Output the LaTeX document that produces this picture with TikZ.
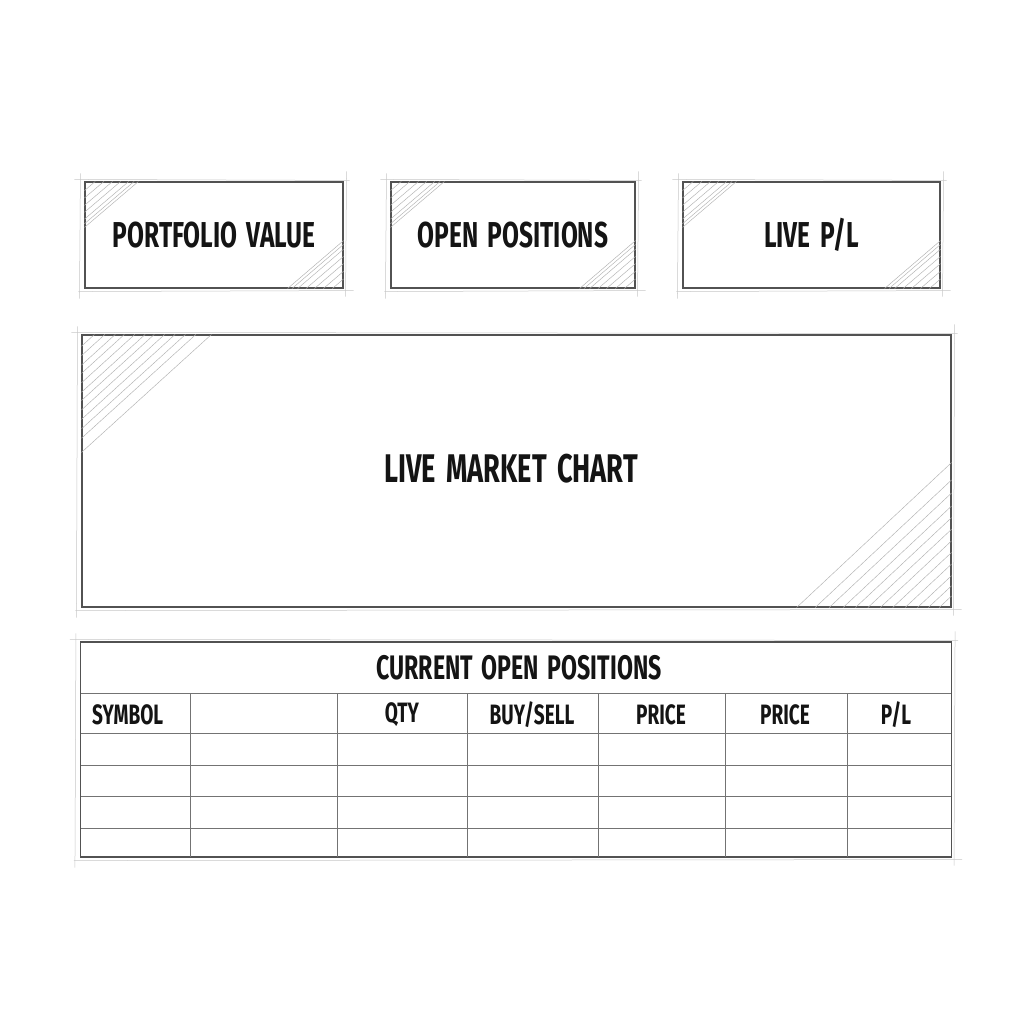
\documentclass[tikz,border=0pt]{standalone}
\usepackage{fontspec}
\usetikzlibrary{calc}
\newfontfamily\cond[FakeStretch=0.68, WordSpace=1.6]{Fira Sans}
\tikzset{
  box/.style={draw=black!68, line width=1.1pt, inner sep=0pt, fill=white},
  faint/.style={draw=black!22, line width=0.5pt},
  hatch/.style={draw=black!30, line width=0.45pt},
  grid/.style={draw=black!55, line width=0.6pt},
  big/.style={font=\cond\bfseries\fontsize{36}{40}\selectfont, text=black!92},
  huge/.style={font=\cond\bfseries\fontsize{40}{44}\selectfont, text=black!92},
  mid/.style={font=\cond\bfseries\fontsize{34}{38}\selectfont, text=black!92, inner sep=0pt},
  head/.style={font=\cond\bfseries\fontsize{28}{32}\selectfont, text=black!92, inner sep=0pt},
}
\newcommand{\hatchtl}[4]{\foreach \t in {#4}{\draw[hatch] ($(#1.north west)+(\t*#2,0)$) -- ($(#1.north west)+(0,\t*#3)$);}}
\newcommand{\hatchbr}[4]{\foreach \t in {#4}{\draw[hatch] ($(#1.south east)+(-\t*#2,0)$) -- ($(#1.south east)+(0,-\t*#3)$);}}
\newcommand{\sketchy}[1]{%
  \draw[faint] ($(#1.north west)+(-10,-2)$) -- ($(#1.north east)+(6,-1)$);
  \draw[faint] ($(#1.south west)+(-6,3)$) -- ($(#1.south east)+(10,2)$);
  \draw[faint] ($(#1.north west)+(-4,-8)$) -- ($(#1.south west)+(-5,10)$);
  \draw[faint] ($(#1.north east)+(3,-10)$) -- ($(#1.south east)+(2,8)$);}
\begin{document}
\begin{tikzpicture}[x=1pt,y=-1pt]
\useasboundingbox[fill=white] (0,0) rectangle (1024,1024);

% top boxes
\node[box, big, minimum width=258, minimum height=106] (pv) at (214,235) {PORTFOLIO VALUE};
\node[box, big, minimum width=244, minimum height=106] (op) at (513,235) {OPEN POSITIONS};
\node[box, big, minimum width=257, minimum height=106] (lp) at (811.5,235) {LIVE P/L};
\foreach \n in {pv,op,lp}{
  \sketchy{\n}
  \hatchtl{\n}{54}{46}{0.2,0.36,0.52,0.67,0.82,0.92,1.0}
  \hatchbr{\n}{56}{48}{0.2,0.36,0.52,0.67,0.82,0.92,1.0}
}

% chart
\node[box, minimum width=869, minimum height=272] (chart) at (516.5,471) {};
\node[huge] (charttxt) at (511,469) {LIVE MARKET CHART};
\sketchy{chart}
\hatchtl{chart}{130}{118}{0.1,0.18,0.26,0.33,0.41,0.49,0.56,0.64,0.72,0.8,0.88,1.0}
\hatchbr{chart}{155}{145}{0.08,0.15,0.22,0.3,0.38,0.46,0.54,0.62,0.7,0.79,0.88,1.0}

% table
\node[box, minimum width=871, minimum height=215] (tbl) at (516,749.5) {};
\sketchy{tbl}
\foreach \yy in {693,733,765,796,828}{
  \draw[grid] (81,\yy) -- (951,\yy);
}
\foreach \xx in {190,337,467,598,725,847}{
  \draw[grid] (\xx,693) -- (\xx,857);
}
\node[mid] (title) at (519,668) {CURRENT OPEN POSITIONS};
\node[head, anchor=west] (h1) at (92,715) {SYMBOL};
\node[head] (h2) at (402,715) {QTY};
\node[head] (h3) at (532,715) {BUY/SELL};
\node[head] (h4) at (661,715) {PRICE};
\node[head] (h5) at (785,715) {PRICE};
\node[head] (h6) at (896,715) {P/L};
\end{tikzpicture}
\end{document}
